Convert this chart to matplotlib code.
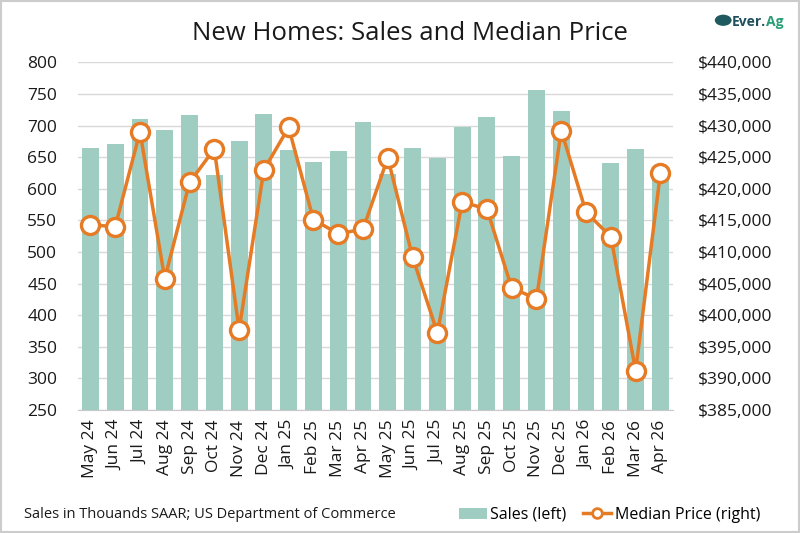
import numpy as np
import matplotlib.pyplot as plt
from matplotlib.lines import Line2D
from matplotlib.patches import Patch, Rectangle, Circle
from matplotlib.ticker import FuncFormatter, MultipleLocator

plt.rcParams['font.family'] = ['Open Sans', 'DejaVu Sans']

# data
months = ['May 24', 'Jun 24', 'Jul 24', 'Aug 24', 'Sep 24', 'Oct 24', 'Nov 24', 'Dec 24',
          'Jan 25', 'Feb 25', 'Mar 25', 'Apr 25', 'May 25', 'Jun 25', 'Jul 25', 'Aug 25',
          'Sep 25', 'Oct 25', 'Nov 25', 'Dec 25', 'Jan 26', 'Feb 26', 'Mar 26', 'Apr 26']
sales = [665, 671, 710, 693, 717, 621, 675, 718, 661, 642, 660, 706,
         623, 665, 648, 698, 714, 652, 757, 723, 558, 641, 663, 623]
median_price = [414300, 414000, 429000, 405800, 421000, 426300, 397700, 423000,
                429700, 415100, 412900, 413600, 424900, 409200, 397200, 417900,
                416800, 404300, 402600, 429200, 416300, 412400, 391200, 422500]

bar_color = '#9fcdc2'
line_color = '#e57b25'
text_color = '#1a1a1a'

fig = plt.figure(figsize=(8, 5.33), dpi=100)
ax = fig.add_axes([0.0975, 0.2308, 0.7435, 0.6522])
x = np.arange(len(months))

ax.bar(x, sales, width=0.68, color=bar_color, zorder=2)
ax.set_ylim(250, 800)
ax.set_xlim(-0.5, len(months) - 0.5)
ax.yaxis.set_major_locator(MultipleLocator(50))
ax.grid(axis='y', color='#d9d9d9', linewidth=1, zorder=0)
ax.set_axisbelow(True)
for s in ['top', 'right', 'left']:
    ax.spines[s].set_visible(False)
ax.spines['bottom'].set_color('#c8c8c8')
ax.tick_params(axis='y', length=0, pad=15, labelsize=12.5, labelcolor=text_color)
ax.tick_params(axis='x', length=0, pad=7, labelsize=12.5, labelcolor=text_color)
ax.set_xticks(x)
ax.set_xticklabels(months, rotation=90)

ax2 = ax.twinx()
ax2.plot(x, median_price, color=line_color, linewidth=2.5, marker='o', markersize=13,
         markerfacecolor='white', markeredgecolor=line_color, markeredgewidth=2.4, zorder=3)
ax2.set_ylim(385000, 440000)
ax2.yaxis.set_major_locator(MultipleLocator(5000))
ax2.yaxis.set_major_formatter(FuncFormatter(lambda v, p: f'${v:,.0f}'))
for s in ['top', 'right', 'left', 'bottom']:
    ax2.spines[s].set_visible(False)
ax2.tick_params(axis='y', length=0, pad=18, labelsize=12.5, labelcolor=text_color)

# title
fig.text(0.513, 0.938, 'New Homes: Sales and Median Price', ha='center', va='center',
         fontsize=18.5, color=text_color)

# logo: icon + two-tone "Ever.Ag"
fig.patches.append(Circle((0.904, 0.962), 0.0105, transform=fig.transFigure,
                          facecolor='#1f5a5e', edgecolor='none'))
fig.text(0.957, 0.952, 'Ever.', ha='right', va='baseline', fontsize=10,
         fontweight='bold', color='#1f4e5c')
fig.text(0.957, 0.952, 'Ag', ha='left', va='baseline', fontsize=10,
         fontweight='bold', color='#2a9e76')

# source note
fig.text(0.03, 0.034, 'Sales in Thouands SAAR; US Department of Commerce', ha='left',
         va='center', fontsize=10.5, color=text_color)

# legend
handles = [Patch(facecolor=bar_color, edgecolor='none'),
           Line2D([0], [0], color=line_color, linewidth=2.5, marker='o', markersize=7,
                  markerfacecolor='white', markeredgecolor=line_color, markeredgewidth=2)]
fig.legend(handles, ['Sales (left)', 'Median Price (right)'], loc='center right',
           bbox_to_anchor=(0.968, 0.034), ncol=2, frameon=False, fontsize=11.5,
           handlelength=1.8, handletextpad=0.2, columnspacing=1.0)

# light frame
fig.patches.append(Rectangle((0.001, 0.001), 0.998, 0.997, transform=fig.transFigure,
                             fill=False, edgecolor='#cccccc', linewidth=1.5))

fig.savefig('out.png', dpi=100)
